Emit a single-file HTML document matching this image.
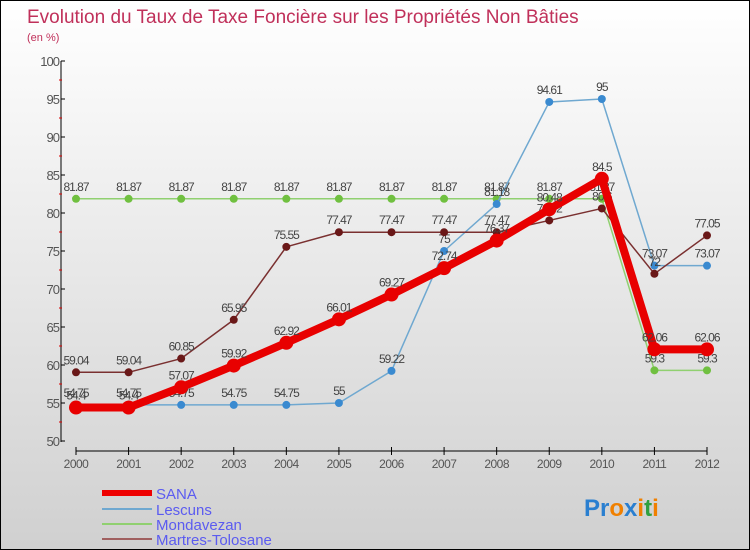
<!DOCTYPE html>
<html><head><meta charset="utf-8"><style>
body{margin:0}
#c{width:750px;height:550px;position:relative;background:linear-gradient(#ffffff,#d0d0d0);font-family:"Liberation Sans",sans-serif;box-sizing:border-box;border:1px solid #000;overflow:hidden}
svg{position:absolute;left:0;top:0}
</style></head><body>
<div id="c">
<svg id="s" width="750" height="550">
<text x="26" y="22" font-size="19" fill="#c0305a">Evolution du Taux de Taxe Foncière sur les Propriétés Non Bâties</text>
<text x="26" y="40" font-size="11" fill="#c0305a">(en %)</text>
<g id="ax"></g><g id="ser"></g>
<g>
<line x1="101" y1="492" x2="151" y2="492" stroke="#e00" stroke-width="6"/>
<text x="155" y="498" font-size="15" fill="#5b5bf0">SANA</text>
<line x1="101" y1="508" x2="151" y2="508" stroke="#6fa8d0" stroke-width="2"/>
<text x="155" y="514" font-size="15" fill="#5b5bf0">Lescuns</text>
<line x1="101" y1="523" x2="151" y2="523" stroke="#90d070" stroke-width="2"/>
<text x="155" y="529" font-size="15" fill="#5b5bf0">Mondavezan</text>
<line x1="101" y1="538" x2="151" y2="538" stroke="#a06060" stroke-width="2"/>
<text x="155" y="544" font-size="15" fill="#5b5bf0">Martres-Tolosane</text>
</g>
<text x="583" y="515" font-size="24" font-weight="bold"><tspan fill="#2a7fd0">Pr</tspan><tspan fill="#f08000">o</tspan><tspan fill="#2a7fd0">x</tspan><tspan fill="#f08000">i</tspan><tspan fill="#30a040">t</tspan><tspan fill="#f08000">i</tspan></text>
</svg></div>
<script>
const years=[2000,2001,2002,2003,2004,2005,2006,2007,2008,2009,2010,2011,2012];
const yTicks=[50,55,60,65,70,75,80,85,90,95,100];
const sana=[54.4,54.4,57.07,59.92,62.92,66.01,69.27,72.74,76.37,80.48,84.5,62.06,62.06];
const lescuns=[54.75,54.75,54.75,54.75,54.75,55,59.22,75,81.18,94.61,95,73.07,73.07];
const mondavezan=[81.87,81.87,81.87,81.87,81.87,81.87,81.87,81.87,81.87,81.87,81.87,59.3,59.3];
const martres=[59.04,59.04,60.85,65.95,75.55,77.47,77.47,77.47,77.47,79.02,80.6,72,77.05];
const NS="http://www.w3.org/2000/svg";
const X=i=>75+i*(706-75)/(years.length-1);
const Y=v=>440-(v-50)*7.6;
function mk(t,a,p){const e=document.createElementNS(NS,t);for(const k in a)e.setAttribute(k,a[k]);p.appendChild(e);return e;}
const ax=document.getElementById('ax');
let e=mk('line',{x1:60,y1:Y(100),x2:60,y2:Y(50)+1,stroke:'#000'},ax);


e=mk('line',{x1:X(0),y1:450,x2:X(12),y2:450,stroke:'#000'},ax);


yTicks.forEach((v,i)=>{
 mk('line',{x1:60,y1:Y(v),x2:64,y2:Y(v),stroke:'#000'},ax);
 if(i<yTicks.length-1) mk('line',{x1:58,y1:Y(v+2.5),x2:61,y2:Y(v+2.5),stroke:'#d00'},ax);
 const t=mk('text',{x:58,y:Y(v)+5,'font-size':13,'text-anchor':'end',fill:'#555','letter-spacing':'-1'},ax);t.textContent=v;
 
 
});
years.forEach((y,i)=>{
 mk('line',{x1:X(i),y1:446,x2:X(i),y2:454,stroke:'#000'},ax);
 const t=mk('text',{x:X(i),y:467,'font-size':12,'text-anchor':'middle',fill:'#555','letter-spacing':'-0.5'},ax);t.textContent=y;
 
 
});
const ser=document.getElementById('ser');
function draw(name,vals,color,w,r,dot){
 const g=mk('g',{},ser);
 
 
 const pl=mk('polyline',{points:vals.map((v,i)=>X(i)+','+Y(v)).join(' '),fill:'none',stroke:color,'stroke-width':w,'stroke-linejoin':'round'},g);
 
 
 vals.forEach((v,i)=>{
  const c=mk('circle',{cx:X(i),cy:Y(v),r:r,fill:dot},g);
  
  
  const t=mk('text',{x:X(i),y:Y(v)-8,'font-size':12,'text-anchor':'middle',fill:'#444','letter-spacing':'-1'},g);t.textContent=v;
  
  
 });
}
draw('mondavezan',mondavezan,'#90d070',1.5,4,'#70c040');
draw('lescuns',lescuns,'#6fa8d0',1.5,4,'#3a8ad0');
draw('martres',martres,'#7a3030',1.5,4,'#6a1818');
draw('sana',sana,'#e80000',8,7,'#e80000');
</script>
</body></html>
